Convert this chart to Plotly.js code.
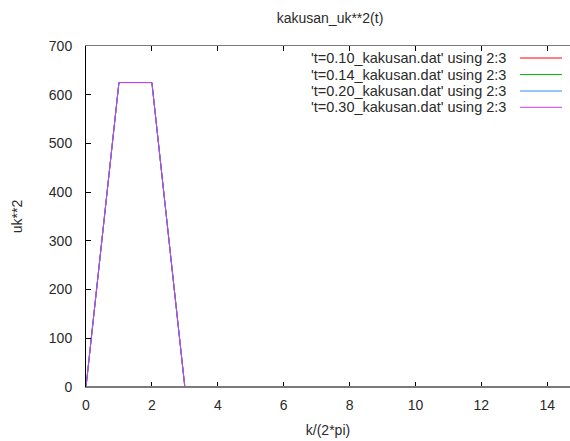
<!DOCTYPE html>
<html>
<head>
<meta charset="utf-8">
<script src="https://cdn.plot.ly/plotly-3.0.1.min.js"></script>
<style>
  html, body { margin: 0; padding: 0; background: #fff; overflow: hidden; }
  #plot { width: 570px; height: 441px; }
</style>
</head>
<body>
<div id="plot"></div>
<script>
// wave number k/(2*pi) and power spectrum uk**2 for each time step
const k = [0, 1, 2, 3, 4, 5, 6, 7, 8, 9, 10, 11, 12, 13, 14, 15];
const uk2_t010 = [0, 625, 625, 0, 0, 0, 0, 0, 0, 0, 0, 0, 0, 0, 0, 0];
const uk2_t014 = [0, 625, 625, 0, 0, 0, 0, 0, 0, 0, 0, 0, 0, 0, 0, 0];
const uk2_t020 = [0, 625, 625, 0, 0, 0, 0, 0, 0, 0, 0, 0, 0, 0, 0, 0];
const uk2_t030 = [0, 625, 625, 0, 0, 0, 0, 0, 0, 0, 0, 0, 0, 0, 0, 0];

const seriesNames = [
  "'t=0.10_kakusan.dat' using 2:3",
  "'t=0.14_kakusan.dat' using 2:3",
  "'t=0.20_kakusan.dat' using 2:3",
  "'t=0.30_kakusan.dat' using 2:3"
];
const seriesValues = [uk2_t010, uk2_t014, uk2_t020, uk2_t030];
const seriesColors = ["#ff0000", "#00c000", "#2f8cff", "#c93cff"];

const FONT = "Liberation Sans, Arial, sans-serif";
const FS = 14;
const TXT = "#2a2a2a";
const BORDER = "#7a7a7a";

const traces = seriesValues.map((v, i) => ({
  x: k,
  y: v,
  type: "scatter",
  mode: "lines",
  name: seriesNames[i],
  line: { color: seriesColors[i], width: 1 },
  showlegend: false,
  hoverinfo: "skip"
}));

// key in the upper right: right-aligned label followed by a line sample
const keyY = [0.9648, 0.9164, 0.8680, 0.8202];
const annotations = seriesNames.map((name, i) => ({
  xref: "paper", yref: "paper",
  x: 0.872, y: keyY[i],
  xanchor: "right", yanchor: "middle",
  text: name, showarrow: false,
  font: { family: FONT, size: 14.5, color: TXT }
}));
const shapes = seriesColors.map((c, i) => ({
  type: "line", xref: "paper", yref: "paper",
  x0: 0.8967, x1: 0.9835, y0: keyY[i], y1: keyY[i],
  line: { color: c, width: 1 }
}));
// bottom border drawn over the curves, as the plot frame sits in front of the data
shapes.push({
  type: "line", xref: "paper", yref: "paper", layer: "above",
  x0: 0, x1: 1, y0: 0, y1: 0,
  line: { color: BORDER, width: 2 }
});

const layout = {
  width: 570, height: 441,
  margin: { l: 86, r: 0, t: 46, b: 54, pad: 0 },
  paper_bgcolor: "#fff", plot_bgcolor: "#fff",
  font: { family: FONT, size: FS, color: TXT },
  title: {
    text: "kakusan_uk**2(t)",
    x: 0.579, xref: "container", xanchor: "center",
    y: 0.96, yref: "container", yanchor: "middle",
    font: { family: FONT, size: FS, color: TXT }
  },
  xaxis: {
    range: [0, 14.69],
    tickmode: "linear", tick0: 0, dtick: 2,
    ticks: "inside", ticklen: 5, tickcolor: "#000", tickwidth: 1,
    ticklabelstandoff: 5,
    showline: true, linecolor: BORDER, linewidth: 1, mirror: "ticks",
    showgrid: false, zeroline: false, layer: "above traces",
    tickfont: { family: FONT, size: FS, color: TXT },
    title: { text: "k/(2*pi)", standoff: 13, font: { family: FONT, size: FS, color: TXT } }
  },
  yaxis: {
    range: [0, 700],
    tickmode: "linear", tick0: 0, dtick: 100,
    ticks: "inside", ticklen: 5, tickcolor: "#000", tickwidth: 1,
    ticklabelstandoff: 10,
    showline: true, linecolor: "#000", linewidth: 1, mirror: false,
    showgrid: false, zeroline: false, layer: "above traces",
    tickfont: { family: FONT, size: FS, color: TXT },
    title: { text: "uk**2", standoff: 22, font: { family: FONT, size: FS, color: TXT } }
  },
  showlegend: false,
  annotations: annotations,
  shapes: shapes
};

Plotly.newPlot("plot", traces, layout, { displayModeBar: false, staticPlot: true });
</script>
</body>
</html>
